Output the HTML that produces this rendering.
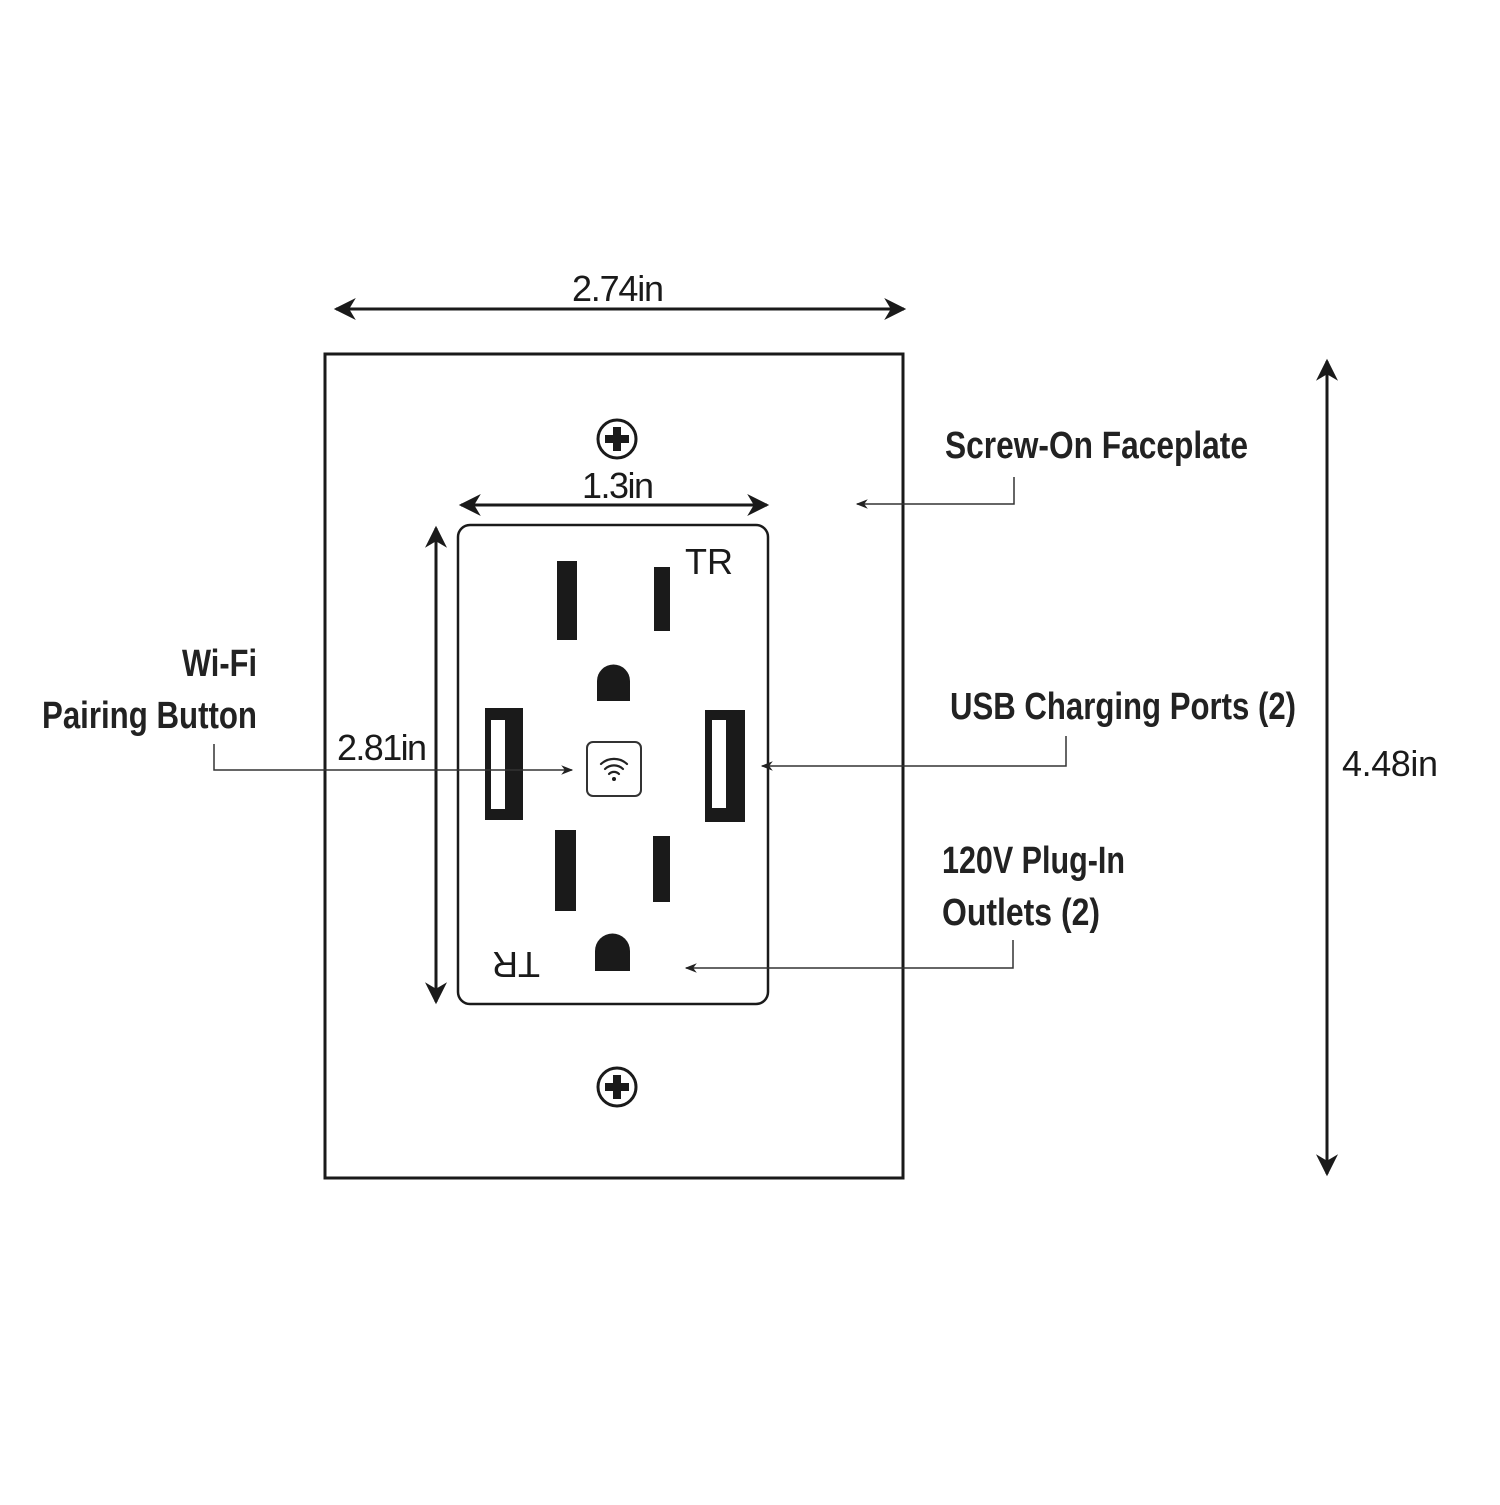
<!DOCTYPE html>
<html><head><meta charset="utf-8"><style>html,body{margin:0;padding:0;background:#fff}</style></head>
<body>
<svg width="1500" height="1500" viewBox="0 0 1500 1500" xmlns="http://www.w3.org/2000/svg">
<defs>
<marker id="a" viewBox="0 0 10 10" refX="9" refY="5" markerWidth="16" markerHeight="12" orient="auto-start-reverse" markerUnits="userSpaceOnUse"><path d="M0,1 L10,5 L0,9 L3,5 z" fill="#222"/></marker>
<marker id="b" viewBox="0 0 10 10" refX="9" refY="5" markerWidth="26" markerHeight="22" orient="auto-start-reverse" markerUnits="userSpaceOnUse"><path d="M0,0 L10,5 L0,10 L3,5 z" fill="#1a1a1a"/></marker>
</defs>
<g font-family="'Liberation Sans Narrow','Liberation Sans',sans-serif" fill="#1a1a1a">
<rect x="325" y="354" width="578" height="824" fill="none" stroke="#1a1a1a" stroke-width="3"/>
<line x1="336" y1="309" x2="904" y2="309" stroke="#1a1a1a" stroke-width="3" marker-start="url(#b)" marker-end="url(#b)"/>
<text x="618" y="301" font-size="36" text-anchor="middle" textLength="92">2.74in</text>
<line x1="1327" y1="361" x2="1327" y2="1174" stroke="#1a1a1a" stroke-width="3" marker-start="url(#b)" marker-end="url(#b)"/>
<text x="1342" y="776" font-size="36" textLength="96">4.48in</text>
<line x1="461" y1="505" x2="767" y2="505" stroke="#1a1a1a" stroke-width="3" marker-start="url(#b)" marker-end="url(#b)"/>
<text x="618" y="498" font-size="36" text-anchor="middle" textLength="72">1.3in</text>
<line x1="436" y1="528" x2="436" y2="1002" stroke="#1a1a1a" stroke-width="3" marker-start="url(#b)" marker-end="url(#b)"/>
<text x="337" y="760" font-size="36" textLength="90">2.81in</text>
<g stroke="#1a1a1a" fill="none"><circle cx="617" cy="439" r="19" stroke-width="3"/><circle cx="617" cy="1087" r="19" stroke-width="3"/></g>
<rect x="613" y="427" width="8" height="24"/><rect x="605" y="435" width="24" height="8"/>
<rect x="613" y="1075" width="8" height="24"/><rect x="605" y="1083" width="24" height="8"/>
<rect x="458" y="525" width="310" height="479" rx="12" fill="none" stroke="#1a1a1a" stroke-width="2.5"/>
<text x="685" y="574" font-family="'Liberation Sans',sans-serif" font-size="36">TR</text>
<text transform="translate(540,952) rotate(180)" font-family="'Liberation Sans',sans-serif" font-size="36">TR</text>
<rect x="557" y="561" width="20" height="79"/>
<rect x="654" y="567" width="16" height="64"/>
<path d="M597,701v-20a16.5,16.5 0 0 1 33,0v20z"/>
<rect x="555" y="830" width="21" height="81"/>
<rect x="653" y="836" width="17" height="66"/>
<path d="M595,971v-20a17.5,17.5 0 0 1 35,0v20z"/>
<rect x="485" y="708" width="38" height="112"/><rect x="491" y="720" width="14" height="89" fill="#fff"/>
<rect x="705" y="710" width="40" height="112"/><rect x="712" y="720" width="14" height="88" fill="#fff"/>
<rect x="587" y="742" width="54" height="54" rx="6" fill="none" stroke="#333" stroke-width="2"/>
<g fill="none" stroke="#222" stroke-width="2.2" stroke-linecap="round">
<path d="M601,764a19,19 0 0 1 26,0"/><path d="M605,769a13,13 0 0 1 18,0"/><path d="M609,774a7,7 0 0 1 10,0"/></g>
<circle cx="614" cy="779" r="2"/>
<g fill="none" stroke="#333" stroke-width="1.5">
<polyline points="1014,477 1014,504 857,504" marker-end="url(#a)"/>
<polyline points="214,744 214,770 572,770" marker-end="url(#a)"/>
<polyline points="1066,736 1066,766 762,766" marker-end="url(#a)"/>
<polyline points="1013,940 1013,968 686,968" marker-end="url(#a)"/>
</g>
<g font-size="38" font-weight="bold" fill="#222">
<text x="945" y="458" textLength="303" lengthAdjust="spacingAndGlyphs">Screw-On Faceplate</text>
<text x="257" y="676" text-anchor="end" textLength="75" lengthAdjust="spacingAndGlyphs">Wi-Fi</text>
<text x="42" y="728" textLength="215" lengthAdjust="spacingAndGlyphs">Pairing Button</text>
<text x="950" y="719" textLength="346" lengthAdjust="spacingAndGlyphs">USB Charging Ports (2)</text>
<text x="942" y="873" textLength="183" lengthAdjust="spacingAndGlyphs">120V Plug-In</text>
<text x="942" y="925" textLength="158" lengthAdjust="spacingAndGlyphs">Outlets (2)</text>
</g>
</g>
</svg>
</body></html>
